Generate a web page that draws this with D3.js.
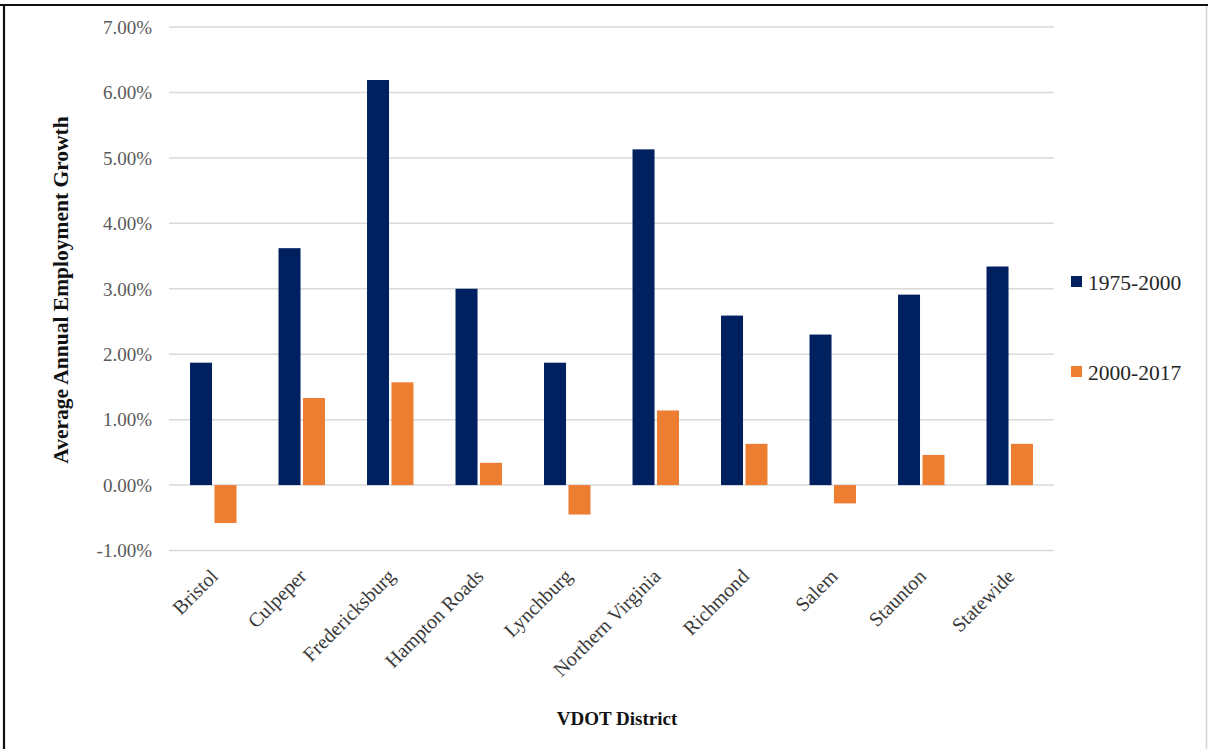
<!DOCTYPE html>
<html>
<head>
<meta charset="utf-8">
<script src="https://cdn.jsdelivr.net/npm/d3@7"></script>
<style>
  html, body { margin: 0; padding: 0; background: #ffffff; }
  svg { display: block; }
  text { font-family: "Liberation Serif", "Times New Roman", serif; }
</style>
</head>
<body>
<svg id="chart" width="1208" height="749"></svg>
<script>
const categories = ["Bristol", "Culpeper", "Fredericksburg", "Hampton Roads", "Lynchburg",
                    "Northern Virginia", "Richmond", "Salem", "Staunton", "Statewide"];
const seriesNames = ["1975-2000", "2000-2017"];
const values1975_2000 = [1.87, 3.62, 6.19, 3.00, 1.87, 5.13, 2.59, 2.30, 2.91, 3.34];
const values2000_2017 = [-0.58, 1.33, 1.57, 0.34, -0.45, 1.14, 0.63, -0.28, 0.46, 0.63];
const yTicks = [-1, 0, 1, 2, 3, 4, 5, 6, 7];
const colors = ["#002060", "#ED7D31"];

const seriesValues = [values1975_2000, values2000_2017];
const rows = categories.map((c, i) => ({ cat: c, vals: seriesValues.map(s => s[i]) }));

const svg = d3.select("#chart");
const W = 1208, H = 749;

// frame
svg.append("rect").attr("x", 0).attr("y", 0).attr("width", W).attr("height", H).attr("fill", "#fff");
svg.append("line").attr("x1", 0).attr("x2", W).attr("y1", 5).attr("y2", 5)
  .attr("stroke", "#111").attr("stroke-width", 2.2);
svg.append("line").attr("x1", 4).attr("x2", 4).attr("y1", 4).attr("y2", H)
  .attr("stroke", "#111").attr("stroke-width", 2.2);
svg.append("line").attr("x1", 1206.5).attr("x2", 1206.5).attr("y1", 6).attr("y2", H)
  .attr("stroke", "#d4d4d4").attr("stroke-width", 1.5);

const plot = { left: 169, right: 1054, top: 27, bottom: 550.5 };

const y = d3.scaleLinear().domain([-1, 7]).range([plot.bottom, plot.top]);
const x0 = d3.scaleBand().domain(categories).range([plot.left, plot.right]).padding(0);
const groupW = x0.bandwidth() * 0.525;
const x1 = d3.scaleBand().domain(seriesNames).range([0, groupW]).paddingInner(0.1);

// gridlines
svg.append("g").selectAll("line").data(yTicks).join("line")
  .attr("x1", plot.left).attr("x2", plot.right)
  .attr("y1", d => y(d)).attr("y2", d => y(d))
  .attr("stroke", "#d9d9d9").attr("stroke-width", 1.5);

// y axis labels
const yAxis = d3.axisLeft(y).tickValues(yTicks).tickSize(0).tickPadding(0)
  .tickFormat(d => d.toFixed(2) + "%");
const yg = svg.append("g").attr("transform", `translate(152,0)`).call(yAxis);
yg.select(".domain").remove();
yg.selectAll("text").attr("font-size", 19).attr("fill", "#595959")
  .attr("font-family", "Liberation Serif").attr("dy", "0.33em");

// bars
const groups = svg.append("g").selectAll("g").data(rows).join("g")
  .attr("transform", d => `translate(${x0(d.cat) + (x0.bandwidth() - groupW) / 2},0)`);
groups.selectAll("rect").data(d => d.vals.map((v, i) => ({ v, s: seriesNames[i], i })))
  .join("rect")
  .attr("x", d => x1(d.s))
  .attr("width", x1.bandwidth())
  .attr("y", d => Math.min(y(d.v), y(0)))
  .attr("height", d => Math.abs(y(d.v) - y(0)))
  .attr("fill", d => colors[d.i]);

// x axis labels
const xAxis = d3.axisBottom(x0).tickSize(0).tickPadding(0);
const xg = svg.append("g").attr("transform", `translate(0,${plot.bottom})`).call(xAxis);
xg.select(".domain").remove();
xg.selectAll("text")
  .attr("font-size", 20).attr("fill", "#3a3a3a").attr("font-family", "Liberation Serif")
  .attr("text-anchor", "end")
  .attr("dy", null).attr("y", null)
  .attr("transform", "translate(6,27) rotate(-45)");

// axis titles
svg.append("text")
  .attr("transform", `translate(68,290) rotate(-90)`)
  .attr("text-anchor", "middle").attr("font-weight", "bold").attr("font-size", 21.5)
  .attr("fill", "#111").text("Average Annual Employment Growth");
svg.append("text")
  .attr("x", 617).attr("y", 725)
  .attr("text-anchor", "middle").attr("font-weight", "bold").attr("font-size", 19)
  .attr("fill", "#111").text("VDOT District");

// legend
const legend = svg.append("g").attr("transform", "translate(1071,0)");
const legY = d3.scalePoint().domain(seriesNames).range([282, 372]);
const li = legend.selectAll("g").data(seriesNames).join("g")
  .attr("transform", d => `translate(0,${legY(d)})`);
li.append("rect").attr("x", 0).attr("y", -6).attr("width", 11).attr("height", 11)
  .attr("fill", (d, i) => colors[i]);
li.append("text").attr("x", 17).attr("y", 0).attr("dy", "0.35em")
  .attr("font-size", 21.5).attr("fill", "#262626").text(d => d);
</script>
</body>
</html>
